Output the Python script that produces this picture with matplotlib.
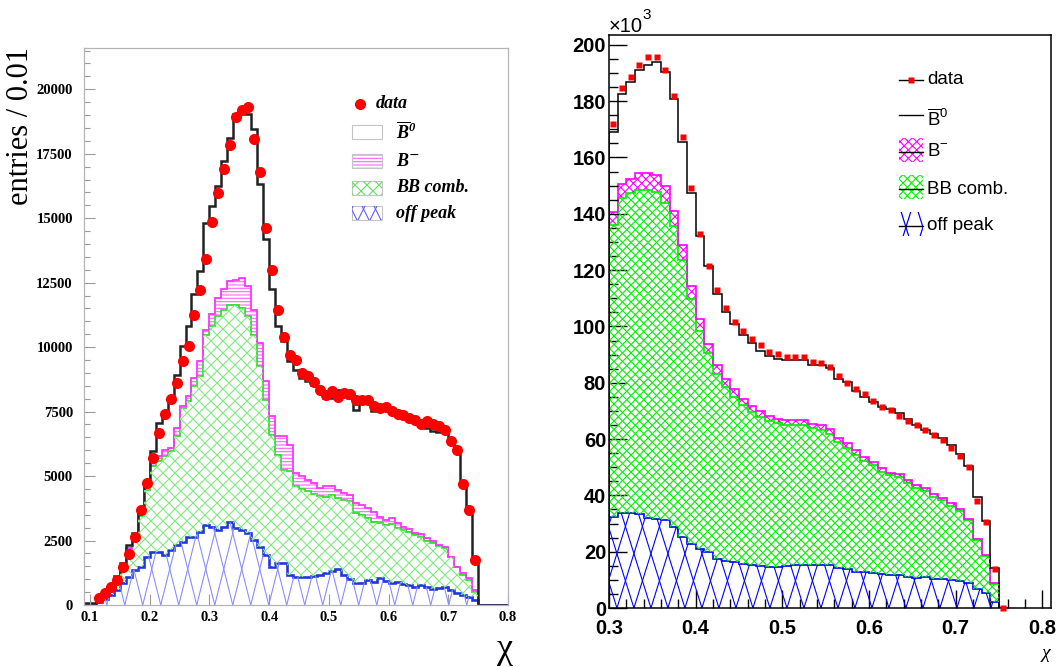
import numpy as np
import matplotlib.pyplot as plt
from matplotlib.collections import LineCollection
from matplotlib.patches import Rectangle
from matplotlib.ticker import MultipleLocator, FormatStrFormatter

plt.rcParams['mathtext.fontset'] = 'custom'
plt.rcParams['mathtext.sf'] = 'Liberation Sans'
plt.rcParams['mathtext.bfit'] = 'Liberation Serif:bold:italic'
plt.rcParams['hatch.linewidth'] = 0.8

# ---------------- left panel (entries / 0.01), bins 0.09 ... 0.80
left_edges = np.arange(0.09, 0.805, 0.01)
left_total = [65,
              91, 194, 400, 760, 1126, 1618, 2330, 2784, 3755, 4726,
              5955, 7056, 7380, 7963, 8934, 10034, 10811, 12041, 12947, 14825,
              15472, 16249, 17220, 18126, 19033, 19097, 19033, 18450, 16314, 14178,
              12236, 10811, 10228, 9451, 9127, 8804, 8674, 8545, 8351, 8027,
              8027, 8351, 8221, 8027, 7574, 7897, 7897, 7509, 7574, 7600,
              7470, 7430, 7315, 7250, 7121, 6926, 6862, 6732, 6705, 6732,
              6409, 6085, 4597, 3690, 1813, 0, 0, 0, 0, 0]
# stacked tops: B- + BB comb. + off peak
left_bminus = [0,
               30, 170, 350, 650, 1000, 1500, 2200, 2700, 3600, 4661,
               5632, 5787, 6020, 6085, 6862, 7703, 8118, 8804, 9451, 10681,
               11302, 11911, 12261, 12559, 12597, 12688, 12365, 11458, 10163, 8674,
               7314, 6538, 6538, 6214, 5114, 4985, 4855, 4726, 4532, 4597,
               4597, 4467, 4338, 4272, 3949, 3884, 3755, 3625, 3431, 3301,
               3366, 3172, 3042, 2939, 2809, 2758, 2589, 2498, 2330, 2265,
               1877, 1489, 1230, 1036, 583, 0, 0, 0, 0, 0]
left_bbcomb = [0,
               20, 150, 300, 600, 900, 1400, 2100, 2600, 3450, 4467,
               5373, 5567, 5761, 5955, 6538, 7638, 7897, 8480, 8868, 10487,
               10811, 11199, 11458, 11652, 11652, 11523, 11199, 10487, 9257, 7962,
               6603, 5826, 5243, 5179, 4597, 4493, 4402, 4311, 4208, 4169,
               4247, 4143, 4078, 4014, 3587, 3496, 3366, 3237, 3172, 3107,
               3146, 2978, 2913, 2822, 2719, 2654, 2498, 2395, 2291, 2201,
               1851, 1463, 1165, 971, 518, 0, 0, 0, 0, 0]
left_offpeak = [0,
                30, 129, 220, 388, 583, 841, 1075, 1359, 1489, 1877,
                2072, 2072, 1942, 2136, 2330, 2460, 2654, 2654, 2848, 3107,
                3042, 2913, 3042, 3237, 2978, 2913, 2783, 2524, 2265, 1942,
                1489, 1618, 1618, 1165, 1100, 1100, 1100, 1120, 1165, 1230,
                1333, 1385, 1165, 997, 867, 854, 971, 906, 1036, 945,
                867, 906, 816, 777, 712, 777, 712, 608, 647, 686,
                583, 479, 388, 324, 194, 0, 0, 0, 0, 0]
left_x = np.arange(0.115, 0.75, 0.01)
left_data = [259, 453, 686, 971, 1463, 1981, 2654, 3690, 4726, 5697,
             6668, 7406, 8001, 8610, 9477, 10060, 11264, 12209, 13400, 14863,
             15990, 16922, 17854, 18928, 19187, 19330, 18061, 16792, 14630, 12985,
             11458, 10383, 9710, 9490, 8998, 8868, 8635, 8351, 8131, 8286,
             8053, 8221, 8183, 7962, 7936, 7962, 7729, 7638, 7677, 7509,
             7418, 7380, 7250, 7185, 7017, 7121, 7030, 6952, 6797, 6370,
             6020, 4687, 3690, 1748]

# ---------------- right panel (x10^3), bins 0.30 ... 0.76
right_edges = np.arange(0.30, 0.765, 0.01)
right_total = [169.0, 182.5, 186.7, 191.0, 192.8, 193.9, 190.3, 180.7, 165.4, 147.3,
               132.0, 121.3, 111.4, 105.0, 100.9, 96.9, 94.0, 91.2, 89.5, 88.5,
               87.9, 87.9, 87.9, 86.3, 86.3, 85.1, 81.5, 80.3, 77.1, 74.8,
               73.3, 71.3, 70.6, 69.2, 67.1, 65.0, 63.2, 61.7, 60.3, 57.8,
               54.6, 50.5, 39.3, 30.9, 14.1, 0]
right_bminus = [140.6, 150.6, 152.5, 154.6, 154.4, 153.7, 150.0, 141.1, 128.9, 114.4,
                102.6, 93.8, 86.2, 81.2, 77.7, 74.4, 71.9, 70.1, 68.3, 67.3,
                66.8, 66.8, 66.8, 65.3, 65.0, 63.5, 60.3, 58.5, 56.0, 53.6,
                52.0, 49.7, 48.1, 47.5, 45.4, 43.6, 42.5, 40.4, 39.1, 37.2,
                35.1, 31.5, 24.4, 18.7, 8.8, 0]
right_bbcomb = [136.0, 145.5, 147.5, 148.5, 148.5, 147.7, 143.9, 135.5, 123.6, 109.7,
                98.4, 90.5, 83.1, 78.6, 74.8, 72.0, 69.7, 68.0, 66.5, 65.6,
                65.0, 65.0, 65.0, 63.8, 63.2, 61.7, 59.0, 56.8, 54.4, 52.3,
                50.8, 48.4, 47.1, 46.5, 44.3, 42.7, 41.4, 39.5, 38.4, 36.4,
                34.3, 31.1, 24.2, 18.5, 8.5, 0]
right_offpeak = [32.2, 33.9, 33.6, 33.4, 31.8, 31.5, 31.1, 28.7, 25.3, 22.6,
                 20.8, 19.8, 17.5, 16.8, 16.2, 15.6, 15.3, 14.9, 14.6, 14.5,
                 14.8, 15.1, 15.3, 15.3, 15.3, 15.1, 14.1, 13.7, 12.9, 12.7,
                 12.6, 12.0, 11.6, 11.8, 10.9, 10.7, 10.9, 10.3, 10.3, 9.8,
                 9.7, 8.8, 6.9, 5.2, 2.2, 0]
right_x = np.arange(0.305, 0.76, 0.01)
right_data = [171.9, 184.7, 188.5, 192.9, 195.6, 195.6, 191.1, 181.9, 167.2, 149.1,
              132.7, 121.5, 112.9, 106.5, 101.7, 98.4, 95.6, 93.4, 90.9, 90.1,
              89.2, 89.2, 89.2, 87.3, 87.0, 85.6, 82.4, 79.9, 77.8, 75.9,
              73.5, 71.4, 70.2, 68.2, 66.4, 65.0, 63.2, 61.5, 59.7, 56.8,
              53.9, 50.1, 37.9, 30.5, 13.9, 0]

W, H = 1059, 667
fig = plt.figure(figsize=(W / 100, H / 100), dpi=100)
axL = fig.add_axes([84 / W, 1 - 605 / H, 424 / W, 557 / H])
axR = fig.add_axes([609 / W, 1 - 608 / H, 442 / W, 573 / H])


def line_hatch(ax, clip, step, slope, color, lw):
    # ROOT-like hatch: two families of lines (slope +/-), spacing in pixels
    pos = ax.get_position()
    w, h = pos.width * W, pos.height * H
    run = h / slope
    segs = []
    for x0 in np.arange(-run - step, w + run + step, step):
        segs.append([(x0 / w, 0), ((x0 + run) / w, 1)])
        segs.append([(x0 / w, 0), ((x0 - run) / w, 1)])
    lc = LineCollection(segs, colors=color, linewidths=lw, transform=ax.transAxes)
    ax.add_collection(lc, autolim=False)
    lc.set_clip_path(clip)


def px(ax, x, y):
    pos = ax.get_position()
    return ((x / W - pos.x0) / pos.width, ((1 - y / H) - pos.y0) / pos.height)


# ================= left panel
ax = axL
p = ax.stairs(left_offpeak, left_edges, baseline=0, fill=True, fc='none', ec='none', lw=0)
line_hatch(ax, p, 18, 4.0, '#8c8cff', 0.8)
p = ax.stairs(left_bbcomb, left_edges, baseline=left_offpeak, fill=True, fc='none', ec='none', lw=0)
line_hatch(ax, p, 12, 1.0, '#80e880', 0.8)
ax.stairs(left_bminus, left_edges, baseline=left_bbcomb, fill=True, fc='none',
          ec='#ff66ff', lw=0, hatch='-----')
ax.stairs(left_bbcomb, left_edges, color='#2ee02e', lw=1.3)
ax.stairs(left_bminus, left_edges, color='#ff33ff', lw=1.3)
ax.stairs(left_offpeak, left_edges, color='#1f35e0', lw=1.9)
ax.stairs(left_total, left_edges, color='#222222', lw=1.8)
ax.plot(left_x, left_data, 'o', color='#ff0000', ms=8, mec='none', zorder=5)

ax.set_xlim(0.09, 0.80)
ax.set_ylim(0, 21600)
ax.set_xticks(np.arange(0.1, 0.81, 0.1))
ax.set_yticks(np.arange(0, 20001, 2500))
ax.yaxis.set_minor_locator(MultipleLocator(500))
ax.xaxis.set_major_formatter(FormatStrFormatter('%.1f'))
ax.yaxis.set_major_formatter(FormatStrFormatter('%d'))
ax.tick_params(which='both', direction='in', color='#9a9a9a', width=0.8)
ax.tick_params(which='major', length=8)
ax.tick_params(which='minor', length=4)
ax.tick_params(axis='y', pad=8)
ax.tick_params(axis='x', pad=4)
for lab in ax.get_xticklabels() + ax.get_yticklabels():
    lab.set_fontfamily('Liberation Serif')
    lab.set_fontweight('bold')
    lab.set_fontsize(10.5)
for s in ax.spines.values():
    s.set_color('#b4b4b4')
    s.set_linewidth(0.9)

fig.text(21 / W, 1 - 126 / H, 'entries / 0.01', rotation=90, fontsize=22,
         family='Liberation Serif', ha='center', va='center')
fig.text(505 / W, 1 - 650 / H, 'χ', fontsize=26, family='Liberation Serif',
         ha='center', va='center')

# left legend
lfont = dict(family='Liberation Serif', weight='bold', style='italic', fontsize=13,
             va='center', ha='left', transform=ax.transAxes)
ax.plot(*px(ax, 360, 104), 'o', color='#ff0000', ms=8, mec='none',
        transform=ax.transAxes, clip_on=False)
ax.text(*px(ax, 376, 104), 'data', **lfont)
rows = [(132, r'$\overline{\mathbfit{B}}^{\mathbfit{0}}$', None),
        (161, r'$\mathbfit{B}^{-}$', 'mag'),
        (188, 'BB comb.', 'green'),
        (213, 'off peak', 'blue')]
for y, label, kind in rows:
    x0, y0 = px(ax, 352, y + 7)
    x1, y1 = px(ax, 382, y - 7)
    if kind == 'mag':
        ax.add_patch(Rectangle((x0, y0), x1 - x0, y1 - y0, transform=ax.transAxes,
                               fc='none', ec='#ff66ff', lw=0, hatch='-----'))
    elif kind == 'green':
        r = Rectangle((x0, y0), x1 - x0, y1 - y0, transform=ax.transAxes, fc='none', ec='none')
        ax.add_patch(r)
        line_hatch(ax, r, 12, 1.0, '#60e060', 0.8)
    elif kind == 'blue':
        r = Rectangle((x0, y0), x1 - x0, y1 - y0, transform=ax.transAxes, fc='none', ec='none')
        ax.add_patch(r)
        line_hatch(ax, r, 12, 2.0, '#6060ff', 0.8)
    ax.add_patch(Rectangle((x0, y0), x1 - x0, y1 - y0, transform=ax.transAxes,
                           fc='none', ec='#c4c4c4', lw=0.8))
    ax.text(*px(ax, 396, y), label, **lfont)

# ================= right panel
ax = axR
p = ax.stairs(right_offpeak, right_edges, baseline=0, fill=True, fc='none', ec='none', lw=0)
line_hatch(ax, p, 17, 3.2, '#0000ff', 0.8)
p = ax.stairs(right_bbcomb, right_edges, baseline=right_offpeak, fill=True, fc='none', ec='none', lw=0)
line_hatch(ax, p, 8.5, 1.0, '#00f000', 0.8)
ax.stairs(right_bminus, right_edges, baseline=right_bbcomb, fill=True, fc='none',
          ec='#ff00ff', lw=0, hatch='xxxx')
ax.stairs(right_bbcomb, right_edges, color='#00ee00', lw=1.2)
ax.stairs(right_bminus, right_edges, color='#ff00ff', lw=1.2)
ax.stairs(right_offpeak, right_edges, color='#0000ff', lw=1.2)
ax.stairs(right_total, right_edges, color='black', lw=1.1)
ax.plot(right_x, right_data, 's', color='#ff0000', ms=4.2, mec='none', zorder=5,
        clip_on=False)

ax.set_xlim(0.30, 0.81)
ax.set_ylim(0, 203.5)
ax.set_xticks(np.arange(0.3, 0.81, 0.1))
ax.set_yticks(np.arange(0, 201, 20))
ax.xaxis.set_minor_locator(MultipleLocator(0.02))
ax.yaxis.set_minor_locator(MultipleLocator(5))
ax.xaxis.set_major_formatter(FormatStrFormatter('%.1f'))
ax.yaxis.set_major_formatter(FormatStrFormatter('%d'))
ax.tick_params(which='both', direction='in', color='black', width=1.0)
ax.tick_params(which='major', length=13)
ax.tick_params(which='minor', length=6.5)
ax.tick_params(axis='y', pad=2)
ax.tick_params(axis='x', pad=8)
for lab in ax.get_xticklabels() + ax.get_yticklabels():
    lab.set_fontfamily('Liberation Sans')
    lab.set_fontweight('bold')
    lab.set_fontsize(14.5)
for s in ax.spines.values():
    s.set_color('black')
    s.set_linewidth(1.1)

fig.text(609 / W, 1 - 26 / H, '×10', fontsize=14.5, family='Liberation Sans',
         ha='left', va='center')
fig.text(642 / W, 1 - 15 / H, '3', fontsize=11, family='Liberation Sans',
         ha='left', va='center')
fig.text(1046 / W, 1 - 653 / H, 'χ', fontsize=14, family='Liberation Serif',
         style='italic', ha='center', va='center')

# right legend
rfont = dict(family='Liberation Sans', fontsize=13.5, va='center', ha='left',
             transform=ax.transAxes)
xa, _ = px(ax, 899, 0)
xb, _ = px(ax, 923, 0)
xm, ym = px(ax, 911, 80)
ax.plot([xa, xb], [ym, ym], color='black', lw=1.0, transform=ax.transAxes)
ax.plot(xm, ym, 's', color='#ff0000', ms=4.2, mec='none', transform=ax.transAxes)
ax.text(*px(ax, 927, 80), 'data', **rfont)
_, yb0 = px(ax, 0, 115)
ax.plot([xa, xb], [yb0, yb0], color='black', lw=1.0, transform=ax.transAxes)
ax.text(*px(ax, 927, 119), r'$\overline{\mathsf{B}}^{\mathsf{0}}$', **rfont)
rrows = [(150, 'B$^{\\mathsf{-}}$', 'mag'),
         (187, 'BB comb.', 'green'),
         (224, 'off peak', 'blue')]
for y, label, kind in rrows:
    x0, y0 = px(ax, 899, y + 12)
    x1, y1 = px(ax, 923, y - 12)
    r = Rectangle((x0, y0), x1 - x0, y1 - y0, transform=ax.transAxes, fc='none', ec='none')
    ax.add_patch(r)
    if kind == 'mag':
        r.set_edgecolor('#ff00ff')
        r.set_hatch('xxxx')
        r.set_linewidth(0)
    elif kind == 'green':
        line_hatch(ax, r, 8.5, 1.0, '#00f000', 0.8)
    else:
        line_hatch(ax, r, 17, 3.2, '#0000ff', 0.9)
    _, yl = px(ax, 0, y + 2)
    ax.plot([xa, xb], [yl, yl], color='black', lw=1.0, transform=ax.transAxes)
    ax.text(*px(ax, 927, y + 2), label, **rfont)

fig.savefig('out.png', dpi=100, facecolor='white')
